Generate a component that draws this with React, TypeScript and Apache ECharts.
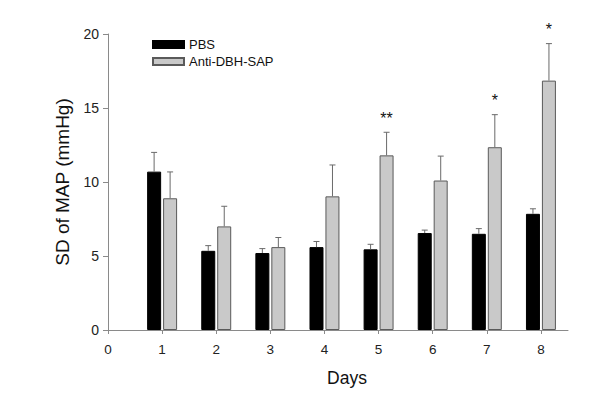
import React, { useEffect, useRef } from "react";
import * as echarts from "echarts";

const days = [1, 2, 3, 4, 5, 6, 7, 8];
const pbsMean = [10.7, 5.35, 5.2, 5.6, 5.45, 6.55, 6.5, 7.85];
const pbsErr = [1.3, 0.35, 0.3, 0.38, 0.34, 0.2, 0.35, 0.34];
const sapMean = [8.9, 7.0, 5.6, 9.03, 11.8, 10.1, 12.35, 16.85];
const sapErr = [1.78, 1.36, 0.65, 2.12, 1.56, 1.65, 2.2, 2.5];
const sig = ["", "", "", "", "**", "", "*", "*"];
const xTicks = [0, 1, 2, 3, 4, 5, 6, 7, 8];

const FONT = "Liberation Sans, Arial, sans-serif";

function errSeries(name: string, mean: number[], err: number[], offset: number, marks: string[] | null) {
  return {
    name,
    type: "custom",
    silent: true,
    z: 5,
    data: days.map((d, i) => [d, mean[i], err[i], i]),
    renderItem: (params: any, api: any) => {
      const x = api.value(0);
      const m = api.value(1);
      const e = api.value(2);
      const idx = api.value(3);
      const p0 = api.coord([x, m]);
      const p1 = api.coord([x, m + e]);
      const cx = p0[0] + offset;
      const style = { stroke: "#6a6a6a", lineWidth: 1 };
      const children: any[] = [
        { type: "line", shape: { x1: cx, y1: p0[1], x2: cx, y2: p1[1] }, style },
        { type: "line", shape: { x1: cx - 3, y1: p1[1], x2: cx + 3, y2: p1[1] }, style },
      ];
      if (marks && marks[idx]) {
        children.push({
          type: "text",
          style: {
            text: marks[idx],
            x: cx,
            y: p1[1] - 6,
            align: "center",
            verticalAlign: "bottom",
            fontSize: 16,
            fontFamily: FONT,
            fill: "#111",
          },
        });
      }
      return { type: "group", children };
    },
  };
}

export default function App() {
  const ref = useRef<HTMLDivElement>(null);
  useEffect(() => {
    if (!ref.current) return;
    const chart = echarts.init(ref.current, null, { renderer: "svg" });
    chart.setOption({
      animation: false,
      backgroundColor: "#ffffff",
      textStyle: { fontFamily: FONT },
      grid: { left: 108, top: 34, width: 460, height: 296 },
      legend: {
        data: ["PBS", "Anti-DBH-SAP"],
        orient: "vertical",
        left: 152,
        top: 38,
        padding: 0,
        icon: "rect",
        itemWidth: 31,
        itemHeight: 7,
        itemGap: 4,
        textStyle: { fontSize: 13, color: "#111", fontFamily: FONT },
      },
      xAxis: {
        type: "value",
        min: 0,
        max: 8.5,
        interval: 1,
        name: "Days",
        nameLocation: "middle",
        nameGap: 39,
        nameTextStyle: { fontSize: 17.5, color: "#111", fontFamily: FONT, padding: [0, 0, 0, 18] },
        splitLine: { show: false },
        axisLine: { lineStyle: { color: "#8a8a8a", width: 1 } },
        axisTick: { show: true, length: 4, customValues: xTicks, lineStyle: { color: "#8a8a8a" } },
        axisLabel: { customValues: xTicks, fontSize: 13.5, color: "#222", margin: 12, fontFamily: FONT },
      },
      yAxis: {
        type: "value",
        min: 0,
        max: 20,
        interval: 5,
        name: "SD of MAP (mmHg)",
        nameLocation: "middle",
        nameGap: 36,
        nameTextStyle: { fontSize: 19, color: "#111", fontFamily: FONT },
        splitLine: { show: false },
        axisLine: { show: true, lineStyle: { color: "#8a8a8a", width: 1 } },
        axisTick: { show: true, length: 5, lineStyle: { color: "#8a8a8a" } },
        axisLabel: { fontSize: 14, color: "#222", margin: 9, fontFamily: FONT },
      },
      series: [
        {
          name: "PBS",
          type: "bar",
          barWidth: 14,
          barGap: "14%",
          data: days.map((d, i) => [d, pbsMean[i]]),
          itemStyle: { color: "#000000", borderColor: "#000000", borderWidth: 1 },
        },
        {
          name: "Anti-DBH-SAP",
          type: "bar",
          barWidth: 14,
          barGap: "14%",
          data: days.map((d, i) => [d, sapMean[i]]),
          itemStyle: { color: "#c9c9c9", borderColor: "#5a5a5a", borderWidth: 1 },
        },
        errSeries("pbs-err", pbsMean, pbsErr, -8, null),
        errSeries("sap-err", sapMean, sapErr, 8, sig),
      ],
    });
    return () => chart.dispose();
  }, []);
  return (
    <div
      ref={ref}
      style={{ position: "fixed", left: 0, top: 0, width: 600, height: 416, background: "#fff" }}
    />
  );
}
